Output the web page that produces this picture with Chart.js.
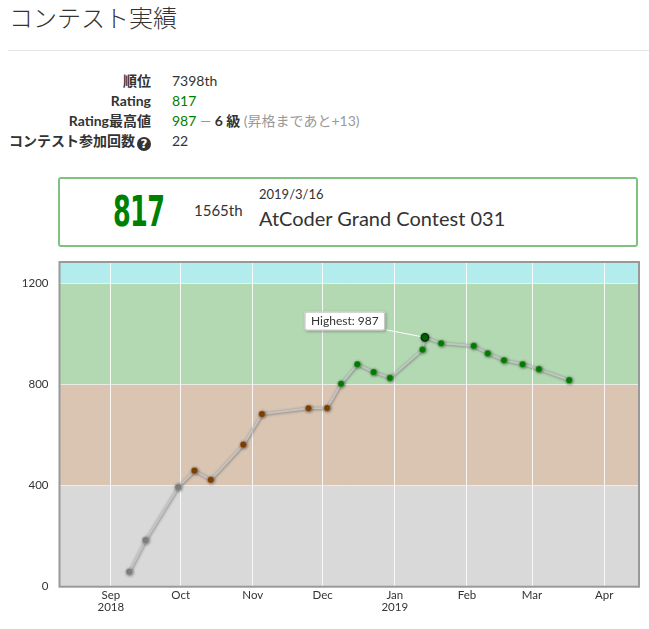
<!DOCTYPE html>
<html>
<head>
<meta charset="utf-8">
<script src="https://cdn.jsdelivr.net/npm/chart.js@4/dist/chart.umd.min.js"></script>
<style>
  html,body{margin:0;padding:0;background:#fff;}
  body{width:649px;height:629px;overflow:hidden;position:relative;font-family:Lato,"Noto Sans CJK JP",sans-serif;color:#333;}
  .abs{position:absolute;white-space:nowrap;}
  #title{left:9px;top:5px;font-size:24px;line-height:24px;font-family:"Noto Sans CJK JP",sans-serif;font-weight:300;color:#333;}
  #hr{left:8px;top:50px;width:641px;height:1px;background:#e6e6e6;}
  .lab{left:0;width:151px;text-align:right;font-size:14px;line-height:20px;font-weight:bold;color:#333;}
  .val{left:172px;font-size:14px;line-height:20px;color:#333;}
  .qi{display:inline-block;width:14px;height:14px;border-radius:50%;background:#333;color:#fff;font-size:12px;line-height:14px;text-align:center;font-weight:900;vertical-align:-2px;margin-left:2px;font-family:"DejaVu Sans",sans-serif;}
  #box{left:58px;top:177px;width:576px;height:66px;border:2px solid rgb(128,192,128);border-radius:3px;}
  #big{left:113px;top:190px;font-family:"Liberation Sans Narrow","DejaVu Sans Condensed",sans-serif;font-weight:bold;font-size:43px;line-height:43px;color:#008000;transform-origin:0 0;transform:scaleX(0.66);letter-spacing:-1px;}
  #c{position:absolute;left:0;top:250px;}
</style>
</head>
<body>
<div id="title" class="abs">コンテスト実績</div>
<div id="hr" class="abs"></div>

<div class="abs lab" style="top:71px">順位</div>
<div class="abs val" style="top:71px">7398th</div>
<div class="abs lab" style="top:91px">Rating</div>
<div class="abs val" style="top:91px;color:#008000">817</div>
<div class="abs lab" style="top:111px">Rating最高値</div>
<div class="abs val" style="top:111px"><span style="color:#008000">987</span> <span style="color:#999">—</span> <b>6 級</b> <span style="color:#999">(昇格まであと+13)</span></div>
<div class="abs lab" style="top:131px">コンテスト参加回数<span class="qi">?</span></div>
<div class="abs val" style="top:131px">22</div>

<div id="box" class="abs"></div>
<div id="big" class="abs">817</div>
<div class="abs" style="left:194px;top:203.4px;font-size:15px;line-height:15px;">1565th</div>
<div class="abs" style="left:259px;top:187.8px;font-size:13px;line-height:13px;">2019/3/16</div>
<div class="abs" style="left:259px;top:208.3px;font-size:20px;line-height:20px;">AtCoder Grand Contest 031</div>

<canvas id="c" width="649" height="379"></canvas>

<script>
// ---- data ----
const contestDates = ["2018-09-08","2018-09-15","2018-09-29","2018-10-06","2018-10-13","2018-10-27","2018-11-04","2018-11-24","2018-12-02","2018-12-08","2018-12-15","2018-12-22","2018-12-29","2019-01-12","2019-01-13","2019-01-20","2019-02-03","2019-02-09","2019-02-16","2019-02-24","2019-03-03","2019-03-16"];
const ratings = [59,184,394,459,423,562,683,706,707,803,880,849,826,938,987,963,953,923,896,880,861,817];
const contestEndTime = "22:40";
const xTickDates = ["2018-09-01","2018-10-01","2018-11-01","2018-12-01","2019-01-01","2019-02-01","2019-03-01","2019-04-01"];
const xTickLabels = [["Sep","2018"],"Oct","Nov","Dec",["Jan","2019"],"Feb","Mar","Apr"];
const yTicks = [0,400,800,1200];
const rankBounds = [0,400,800,1200,1600];
const rankColors = ["#808080","#804000","#008000","#00C0C0"];
const xRangeStart = "2018-08-09";
const xRangeEnd = "2019-04-15";
const yMin = 0, yMax = 1285;

// ---- helpers ----
function t(d, time){ return Date.parse(d + "T" + (time || "00:00") + ":00+09:00"); }
function colorOf(r){
  for(let i=0;i<rankColors.length;i++){ if(r < rankBounds[i+1]) return rankColors[i]; }
  return rankColors[rankColors.length-1];
}
function hexA(hex,a){
  const n=parseInt(hex.slice(1),16);
  return `rgba(${(n>>16)&255},${(n>>8)&255},${n&255},${a})`;
}
const hi = ratings.indexOf(Math.max(...ratings));

const bandPlugin = {
  id:'bands',
  beforeDraw(chart){
    const {ctx, chartArea:a, scales:{y}} = chart;
    ctx.save();
    ctx.beginPath(); ctx.rect(a.left,a.top,a.right-a.left,a.bottom-a.top); ctx.clip();
    for(let i=0;i<rankColors.length;i++){
      const y0 = y.getPixelForValue(rankBounds[i]);
      const y1 = y.getPixelForValue(rankBounds[i+1]);
      ctx.fillStyle = hexA(rankColors[i],0.3);
      ctx.fillRect(a.left, y1, a.right-a.left, y0-y1);
    }
    ctx.restore();
  },
  beforeDatasetsDraw(chart){
    const {ctx} = chart;
    const p = chart.getDatasetMeta(0).data[hi];
    ctx.save();
    ctx.strokeStyle = '#fff'; ctx.lineWidth = 1;
    ctx.beginPath(); ctx.moveTo(p.x-39, p.y-7.5); ctx.lineTo(p.x, p.y); ctx.stroke();
    ctx.restore();
  },
  beforeDatasetDraw(chart){
    const ctx = chart.ctx;
    ctx.save();
    ctx.shadowColor = 'rgba(0,0,0,0.45)';
    ctx.shadowBlur = 3;
    ctx.shadowOffsetX = 0.5; ctx.shadowOffsetY = 0.5;
  },
  afterDatasetDraw(chart){
    chart.ctx.restore();
  },
  afterDraw(chart){
    const {ctx, chartArea:a} = chart;
    ctx.save();
    ctx.strokeStyle = '#999'; ctx.lineWidth = 2;
    ctx.strokeRect(a.left, a.top, a.right-a.left, a.bottom-a.top);
    const p = chart.getDatasetMeta(0).data[hi];
    const bx = p.x-120.4, by = p.y-25.7, bw = 80.7, bh = 19;
    ctx.shadowColor='rgba(0,0,0,0.35)'; ctx.shadowBlur=3; ctx.shadowOffsetX=1; ctx.shadowOffsetY=1;
    ctx.fillStyle='#fff';
    ctx.beginPath(); ctx.roundRect(bx,by,bw,bh,2); ctx.fill();
    ctx.shadowColor='transparent';
    ctx.strokeStyle='#bbb'; ctx.lineWidth=1;
    ctx.beginPath(); ctx.roundRect(bx+0.5,by+0.5,bw-1,bh-1,2); ctx.stroke();
    ctx.fillStyle='#333'; ctx.font='12px Lato'; ctx.textAlign='center'; ctx.textBaseline='middle';
    ctx.fillText('Highest: ' + ratings[hi], bx+bw/2, by+bh/2+0.5);
    ctx.restore();
  }
};

new Chart(document.getElementById('c'), {
  type:'line',
  data:{datasets:[{
    data: contestDates.map((d,i)=>({x:t(d,contestEndTime), y:ratings[i]})),
    borderColor:'#c4c4c4', borderWidth:2, tension:0, fill:false,
    pointRadius: ratings.map((r,i)=> i===hi?3.8:3.4),
    pointBackgroundColor: ratings.map((r,i)=> i===hi ? '#006800' : colorOf(r)),
    pointBorderColor: ratings.map((r,i)=> i===hi ? '#003000' : 'rgba(200,200,200,0.6)'),
    pointBorderWidth: ratings.map((r,i)=> i===hi?1.2:0.6)
  }]},
  options:{
    responsive:false, animation:false, events:[],
    layout:{padding:{top:12,right:10,left:0,bottom:0}},
    plugins:{legend:{display:false}, tooltip:{enabled:false}},
    scales:{
      x:{
        type:'linear', min:t(xRangeStart,contestEndTime), max:t(xRangeEnd,contestEndTime),
        afterBuildTicks:s=>{ s.ticks = xTickDates.map(d=>({value:t(d)})); },
        afterFit:s=>{ s.height = 42.3; s.paddingLeft = 0; s.paddingRight = 0; },
        grid:{color:'rgba(255,255,255,0.85)', lineWidth:1, drawTicks:false},
        border:{display:false},
        ticks:{padding:2, color:'#333', autoSkip:false, maxRotation:0, font:{family:'Lato', size:11.5, lineHeight:1.1},
               callback:(v,i)=>xTickLabels[i]}
      },
      y:{
        min:yMin, max:yMax,
        afterBuildTicks:s=>{ s.ticks = yTicks.map(v=>({value:v})); },
        afterFit:s=>{ s.width = 59.5; s.paddingTop = 0; s.paddingBottom = 0; },
        grid:{color:'rgba(255,255,255,0.6)', lineWidth:1, drawTicks:false},
        border:{display:false},
        ticks:{padding:11, color:'#333', font:{family:'Lato', size:11.5}, callback:v=>String(v)}
      }
    }
  },
  plugins:[bandPlugin]
});
</script>
</body>
</html>
